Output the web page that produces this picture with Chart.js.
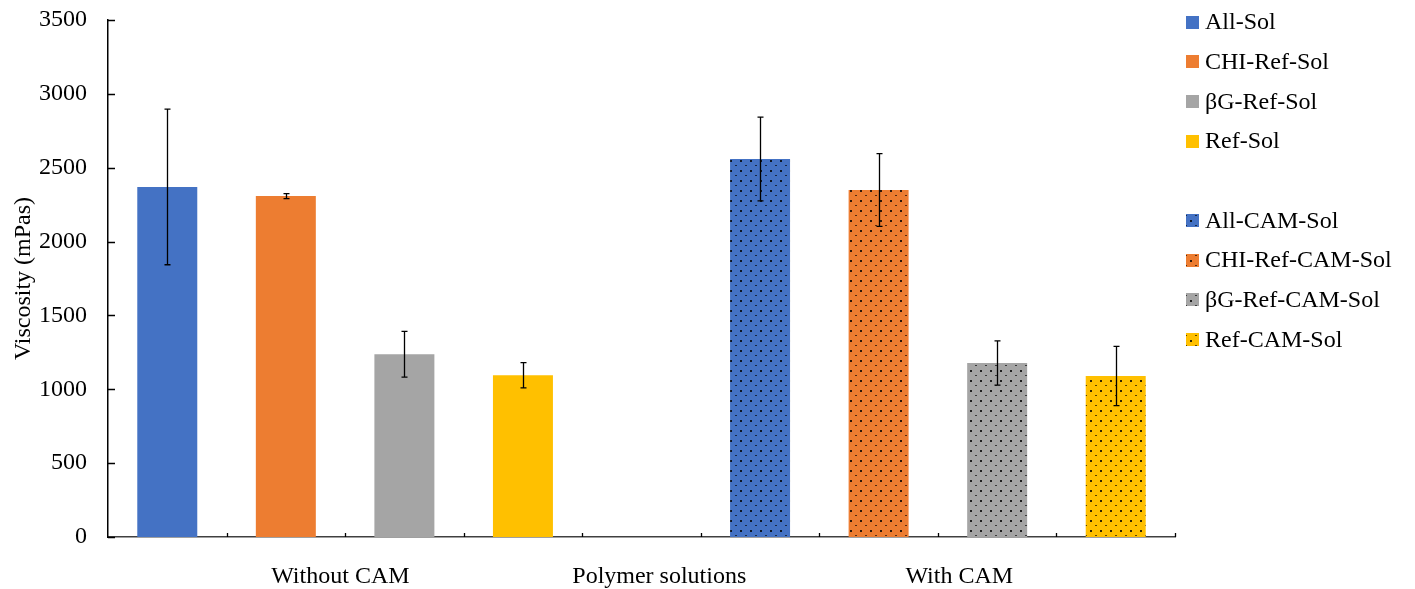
<!DOCTYPE html>
<html>
<head>
<meta charset="utf-8">
<script src="https://cdn.jsdelivr.net/npm/chart.js@4/dist/chart.umd.min.js"></script>
<style>
  html, body { margin: 0; padding: 0; background: #fff; }
  #wrap { width: 1415px; height: 589px; }
</style>
</head>
<body>
<div id="wrap"><canvas id="viscChart"></canvas></div>
<script>
// categories along the x axis (slot 5 is the empty gap)
const categories = ['All-Sol', 'CHI-Ref-Sol', 'βG-Ref-Sol', 'Ref-Sol', '',
  'All-CAM-Sol', 'CHI-Ref-CAM-Sol', 'βG-Ref-CAM-Sol', 'Ref-CAM-Sol'];
const seriesNames = ['All-Sol', 'CHI-Ref-Sol', 'βG-Ref-Sol', 'Ref-Sol',
  'All-CAM-Sol', 'CHI-Ref-CAM-Sol', 'βG-Ref-CAM-Sol', 'Ref-CAM-Sol'];
const seriesSlot = [0, 1, 2, 3, 5, 6, 7, 8];
const viscosity = [2370, 2308, 1237, 1095, 2559, 2349, 1178, 1090];
const viscosityErr = [527, 17, 155, 85, 284, 246, 150, 201];
const hasCam = [false, false, false, false, true, true, true, true];
const baseColors = ['#4472C4', '#ED7D31', '#A5A5A5', '#FFC000',
  '#4472C4', '#ED7D31', '#A5A5A5', '#FFC000'];
const yTicks = [0, 500, 1000, 1500, 2000, 2500, 3000, 3500];
const groupNames = ['Without CAM', 'Polymer solutions', 'With CAM'];
const groupAt = [1.46, 4.15, 6.68]; // in category units

const FONT = 'Liberation Serif';

// dotted fill used by the CAM bars
function dotPattern(color) {
    const c = document.createElement('canvas');
    c.width = 10;
    c.height = 10;
    const g = c.getContext('2d');
    g.fillStyle = color;
    g.fillRect(0, 0, 10, 10);
    g.fillStyle = 'rgba(0,0,0,0.8)';
    g.fillRect(0, 0, 2, 2);
    g.fillStyle = 'rgba(0,0,0,0.65)';
    g.fillRect(5, 5, 2, 1);
    return g.createPattern(c, 'repeat');
}

const fills = baseColors.map((c, i) => hasCam[i] ? dotPattern(c) : c);

const datasets = seriesNames.map((name, i) => {
    const data = categories.map(() => null);
    data[seriesSlot[i]] = viscosity[i];
    return {
        label: name,
        data: data,
        err: viscosityErr[i],
        backgroundColor: fills[i],
        borderWidth: 0,
        barPercentage: 0.506,
        categoryPercentage: 1
    };
});

// error bars on top of each bar
const errorBars = {
    id: 'errorBars',
    afterDatasetsDraw(chart) {
        const ctx = chart.ctx;
        const y = chart.scales.y;
        ctx.save();
        ctx.strokeStyle = '#000';
        ctx.lineWidth = 1.3;
        chart.data.datasets.forEach((ds, di) => {
            const meta = chart.getDatasetMeta(di);
            meta.data.forEach((bar, k) => {
                const v = ds.data[k];
                if (v === null) return;
                const hi = y.getPixelForValue(v + ds.err);
                const lo = y.getPixelForValue(v - ds.err);
                const x = Math.round(bar.x) + 0.5;
                ctx.beginPath();
                ctx.moveTo(x, hi); ctx.lineTo(x, lo);
                ctx.moveTo(x - 3, hi); ctx.lineTo(x + 3, hi);
                ctx.moveTo(x - 3, lo); ctx.lineTo(x + 3, lo);
                ctx.stroke();
            });
        });
        ctx.restore();
    }
};

// inward tick marks, group labels and the legend on the right
const extras = {
    id: 'extras',
    afterDraw(chart) {
        const ctx = chart.ctx;
        const xs = chart.scales.x;
        const ys = chart.scales.y;
        const area = chart.chartArea;
        ctx.save();

        ctx.strokeStyle = '#000';
        ctx.lineWidth = 1.3;
        ctx.beginPath();
        yTicks.forEach(v => {
            const py = Math.round(ys.getPixelForValue(v)) + 0.5;
            ctx.moveTo(area.left, py);
            ctx.lineTo(area.left + 7, py);
        });
        const slot = xs.getPixelForValue(1) - xs.getPixelForValue(0);
        for (let i = 1; i <= categories.length; i++) {
            const px = Math.round(xs.getPixelForValue(0) - slot / 2 + i * slot) + 0.5;
            ctx.moveTo(px, area.bottom);
            ctx.lineTo(px, area.bottom - 4);
        }
        ctx.stroke();

        ctx.fillStyle = '#000';
        ctx.font = '24px "' + FONT + '"';
        ctx.textAlign = 'center';
        ctx.textBaseline = 'alphabetic';
        groupNames.forEach((name, i) => {
            const px = xs.getPixelForValue(0) + groupAt[i] * slot;
            ctx.fillText(name, px, area.bottom + 46);
        });

        // legend: four plain series, a blank row, four CAM series
        ctx.textAlign = 'left';
        ctx.textBaseline = 'middle';
        const rows = [0, 1, 2, 3, 5, 6, 7, 8];
        seriesNames.forEach((name, i) => {
            const cy = area.top + 2 + rows[i] * 39.7;
            const bx = area.right + 11;
            ctx.fillStyle = fills[i];
            ctx.fillRect(bx, Math.round(cy - 6.5), 13, 13);
            ctx.fillStyle = '#000';
            ctx.fillText(name, bx + 19, cy + 1);
        });
        ctx.restore();
    }
};

const ctx = document.getElementById('viscChart').getContext('2d');
const viscChart = new Chart(ctx, {
    type: 'bar',
    data: {
        labels: categories,
        datasets: datasets
    },
    options: {
        responsive: true,
        maintainAspectRatio: false,
        animation: false,
        layout: {
            padding: { left: 0, right: 240, top: 20, bottom: 0 }
        },
        datasets: {
            bar: { grouped: false }
        },
        plugins: {
            legend: { display: false },
            tooltip: { enabled: false }
        },
        scales: {
            x: {
                type: 'category',
                offset: true,
                grid: { display: false, drawTicks: false },
                border: { display: true, color: '#404040', width: 1.5 },
                ticks: { display: false },
                afterFit: (scale) => {
                    scale.height = 52;
                    scale.paddingLeft = 0;
                    scale.paddingRight = 0;
                }
            },
            y: {
                min: 0,
                max: 3500,
                grid: { display: false, drawTicks: false },
                border: { display: true, color: '#000', width: 1.5 },
                ticks: {
                    stepSize: 500,
                    padding: 21,
                    color: '#000',
                    font: { family: FONT, size: 24 },
                    callback: (v) => String(v)
                },
                title: {
                    display: true,
                    text: 'Viscosity (mPas)',
                    color: '#000',
                    font: { family: FONT, size: 24 },
                    padding: { top: 9, bottom: 0 }
                },
                afterFit: (scale) => {
                    scale.width = 108;
                    scale.paddingTop = 0;
                    scale.paddingBottom = 0;
                }
            }
        }
    },
    plugins: [errorBars, extras]
});
</script>
</body>
</html>
